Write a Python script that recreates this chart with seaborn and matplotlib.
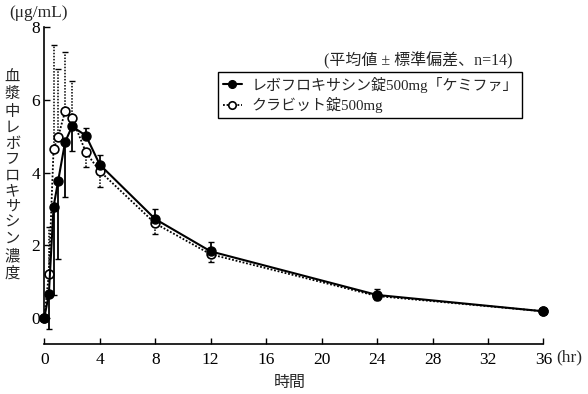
import numpy as np
import pandas as pd
import matplotlib
matplotlib.use("Agg")
import matplotlib.pyplot as plt
import seaborn as sns

# data (mean and SD, n=14)
times = [0, 0.33, 0.67, 1, 1.5, 2, 3, 4, 8, 12, 24, 36]
test_mean = [0, 0.65, 3.06, 3.77, 4.84, 5.27, 5.02, 4.22, 2.72, 1.83, 0.63, 0.18]
test_sd = [0, 0.95, 2.43, 2.15, 1.50, 0.68, 0.20, 0.26, 0.28, 0.26, 0.17, 0.05]
ref_mean = [0, 1.21, 4.65, 4.98, 5.69, 5.50, 4.56, 4.04, 2.60, 1.75, 0.60, 0.18]
ref_sd = [0, 1.30, 2.85, 1.86, 1.63, 1.02, 0.40, 0.44, 0.30, 0.20, 0.10, 0.05]

test_name = "レボフロキサシン錠500mg「ケミファ」"
ref_name = "クラビット錠500mg"
x_ticks = [0, 4, 8, 12, 16, 20, 24, 28, 32, 36]
y_ticks = [0, 2, 4, 6, 8]
ylabel_text = "血漿中レボフロキサシン濃度"

sns.set_style("ticks")
plt.rcParams["font.family"] = ["Liberation Serif", "Noto Sans CJK JP"]

fig = plt.figure(figsize=(5.88, 3.94), dpi=100)
ax = fig.add_axes([0.0753, 0.1269, 0.849, 0.8038])

# one-sided SD bars: lower side for the lower curve, upper for the higher
early = np.array(times) <= 2
t_sd = np.array(test_sd)
r_sd = np.array(ref_sd)
test_err = [np.where(early, t_sd, 0), np.where(early, 0, t_sd)]
ref_err = [np.where(early, 0, r_sd), np.where(early, r_sd, 0)]

eb = ax.errorbar(times, ref_mean, yerr=ref_err, fmt="none", ecolor="black",
                 elinewidth=1.1, capsize=2, capthick=1, zorder=2, clip_on=False)
eb[2][0].set_linestyle((0, (1, 1)))
ax.errorbar(times, test_mean, yerr=test_err, fmt="none", ecolor="black",
            elinewidth=1.3, capsize=2, capthick=1, zorder=2, clip_on=False)

sns.lineplot(x=times, y=ref_mean, ax=ax, color="black", linestyle=(0, (1, 1)),
             linewidth=1.3, marker="o", markersize=6.3, markerfacecolor="white",
             markeredgecolor="black", markeredgewidth=1.2, label=ref_name,
             zorder=3, clip_on=False)
sns.lineplot(x=times, y=test_mean, ax=ax, color="black", linestyle="-",
             linewidth=1.5, marker="o", markersize=6.5, markerfacecolor="black",
             markeredgecolor="black", markeredgewidth=1.0, label=test_name,
             zorder=4, clip_on=False)

ax.set_xlim(0, 36)
ax.set_ylim(-0.72, 8)
ax.set_xticks(x_ticks)
ax.set_yticks(y_ticks)
ax.set_xlabel("")
ax.set_ylabel("")
ax.tick_params(direction="in", length=4, width=1, labelsize=12.5, colors="black")
ax.tick_params(axis="x", pad=6)
ax.tick_params(axis="y", pad=3)
for s in ["top", "right"]:
    ax.spines[s].set_visible(False)
for s in ["left", "bottom"]:
    ax.spines[s].set_linewidth(1.2)
    ax.spines[s].set_color("black")
ax.spines["left"].set_bounds(0, 8)

handles, labels = ax.get_legend_handles_labels()
leg = ax.legend(handles[::-1], labels[::-1], loc="upper left",
                bbox_to_anchor=(0.371, 0.817), bbox_transform=fig.transFigure,
                fontsize=10.8, handlelength=1.3, handletextpad=0.6,
                borderpad=0.3, labelspacing=0.3, borderaxespad=0,
                markerscale=0.85, fancybox=False, framealpha=1,
                edgecolor="black")
leg.get_frame().set_linewidth(1.0)

fig.text(0.872, 0.845, "(平均値 ± 標準偏差、n=14)", ha="right", va="center",
         fontsize=11.5)
fig.text(0.065, 0.968, "(μg/mL)", ha="center", va="center", fontsize=12.5)
fig.text(0.968, 0.094, "(hr)", ha="center", va="center", fontsize=12.5)
fig.text(0.493, 0.028, "時間", ha="center", va="center", fontsize=11.5)
fig.text(0.021, 0.553, "\n".join(ylabel_text), ha="center", va="center",
         fontsize=11, linespacing=1.28)

fig.savefig("out.png", dpi=100)
